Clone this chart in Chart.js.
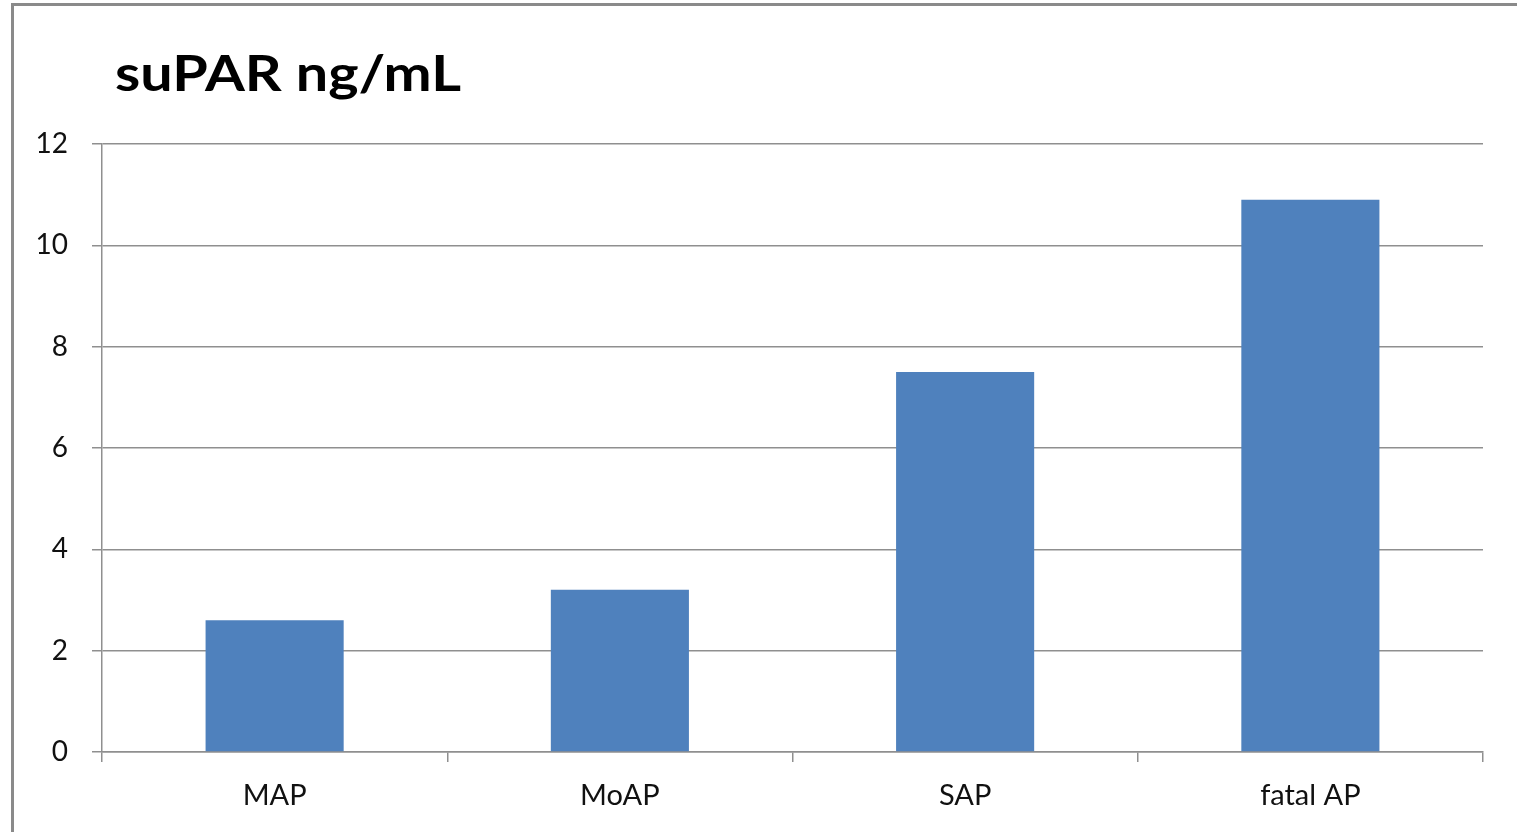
<!DOCTYPE html>
<html>
<head>
<meta charset="utf-8">
<title>suPAR ng/mL</title>
<script src="https://cdn.jsdelivr.net/npm/chart.js@4/dist/chart.umd.min.js"></script>
<style>
  html, body { margin: 0; padding: 0; background: #ffffff; overflow: hidden; }
  #wrap { position: relative; width: 1517px; height: 832px; }
  #frame {
    position: absolute; left: 11px; top: 3px; right: 0; bottom: -10px;
    border-left: 3px solid #8a8a8a; border-top: 3px solid #8a8a8a;
    pointer-events: none;
  }
</style>
</head>
<body>
<div id="wrap">
  <canvas id="chart" width="1517" height="832"></canvas>
  <div id="frame"></div>
</div>
<script>
// Serum suPAR by acute pancreatitis severity group
const titleText = 'suPAR ng/mL';
const categories = ['MAP', 'MoAP', 'SAP', 'fatal AP'];
const suparValues = [2.6, 3.2, 7.5, 10.9];
const yTicks = [0, 2, 4, 6, 8, 10, 12];

const FONT = 'Lato, "Open Sans", "DejaVu Sans", sans-serif';
const GRID = '#8f8f8f';

// Bold chart heading in the upper-left corner, set a little wide
const headingPlugin = {
  id: 'heading',
  afterDraw(chart) {
    const ctx = chart.ctx;
    ctx.save();
    ctx.font = 'bold 50px ' + FONT;
    ctx.fillStyle = '#000000';
    ctx.textAlign = 'left';
    ctx.textBaseline = 'alphabetic';
    const w = ctx.measureText(titleText).width;
    const sx = 346 / w;
    ctx.translate(115, 91);
    ctx.scale(sx, 1);
    ctx.fillText(titleText, 0, 0);
    ctx.restore();
  }
};

new Chart(document.getElementById('chart'), {
  type: 'bar',
  data: {
    labels: categories,
    datasets: [{
      data: suparValues,
      backgroundColor: '#4F81BD',
      borderWidth: 0,
      barPercentage: 0.4,
      categoryPercentage: 1.0
    }]
  },
  options: {
    responsive: false,
    animation: false,
    devicePixelRatio: 1,
    layout: { padding: { left: 0, right: 34, top: 144, bottom: 0 } },
    plugins: {
      legend: { display: false },
      title: { display: false },
      tooltip: { enabled: false }
    },
    scales: {
      x: {
        offset: true,
        afterFit(scale) { scale.height = 80; },
        grid: {
          offset: true,
          drawOnChartArea: false,
          drawTicks: true,
          tickLength: 10,
          color: GRID,
          lineWidth: 1.5
        },
        border: { display: true, color: GRID, width: 1.5 },
        ticks: {
          color: '#111111',
          padding: 16,
          font: { family: FONT, size: 29 }
        }
      },
      y: {
        min: 0,
        max: 12,
        afterFit(scale) { scale.width = 102; },
        afterBuildTicks(scale) { scale.ticks = yTicks.map(v => ({ value: v })); },
        grid: {
          color: GRID,
          lineWidth: 1.5,
          drawTicks: true,
          tickLength: 10
        },
        border: { display: true, color: GRID, width: 1.5 },
        ticks: {
          color: '#111111',
          padding: 24,
          font: { family: FONT, size: 28 }
        }
      }
    }
  },
  plugins: [headingPlugin]
});
</script>
</body>
</html>
